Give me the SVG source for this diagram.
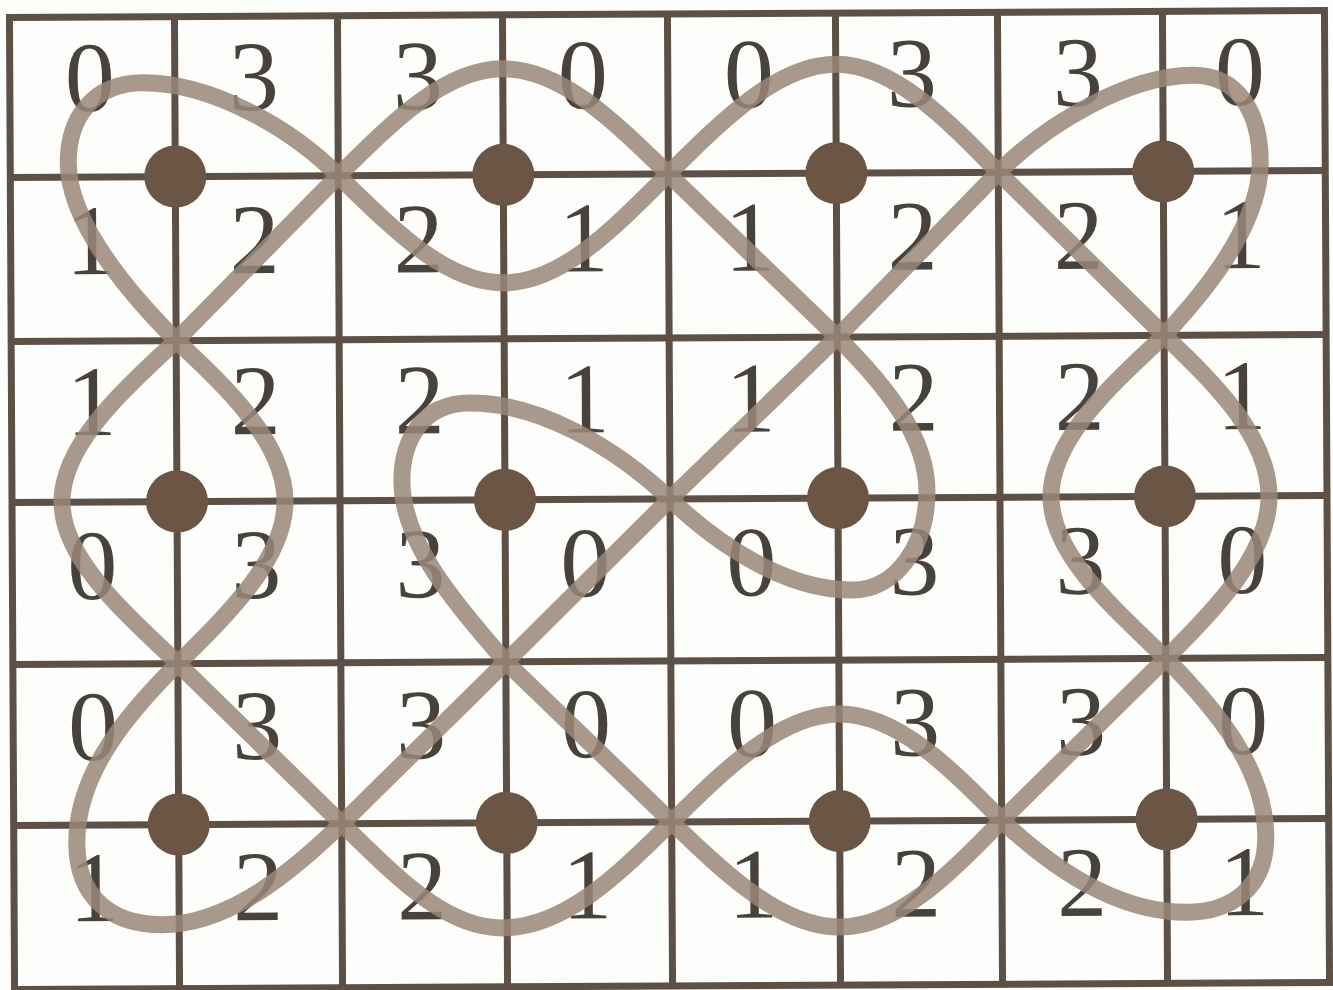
<svg xmlns="http://www.w3.org/2000/svg" width="1333" height="990" viewBox="0 0 1333 990">
<style>
.grid{stroke:#5d5046;stroke-width:7;fill:none}
.n{font-family:"Liberation Serif","Times New Roman",serif;font-size:100px;fill:#48423d;text-anchor:middle}
.c{stroke:#9a8879;stroke-width:17;fill:none;stroke-linecap:round;opacity:0.85}
.d{fill:#6b5646}
</style>
<rect width="1333" height="990" fill="#fdfdfb"/>
<g transform="rotate(-0.3 670 500)">
<g id="grid" class="grid">
<rect x="12" y="14" width="1315" height="972"/>
<path d="M177,14V986M340,14V986M505,14V986M670,14V986M838,14V986M1000,14V986M1165,14V986"/>
<path d="M12,174H1327M12,338H1327M12,499H1327M12,661H1327M12,822H1327"/>
</g>
<g id="labels" class="n">
<text x="92" y="108">0</text><text x="256" y="108">3</text><text x="420" y="108">3</text><text x="585" y="108">0</text><text x="751" y="108">0</text><text x="914" y="108">3</text><text x="1080" y="108">3</text><text x="1242" y="108">0</text>
<text x="92" y="271">1</text><text x="256" y="271">2</text><text x="420" y="271">2</text><text x="585" y="271">1</text><text x="751" y="271">1</text><text x="914" y="271">2</text><text x="1080" y="271">2</text><text x="1242" y="271">1</text>
<text x="92" y="432">1</text><text x="256" y="432">2</text><text x="420" y="432">2</text><text x="585" y="432">1</text><text x="751" y="432">1</text><text x="914" y="432">2</text><text x="1080" y="432">2</text><text x="1242" y="432">1</text>
<text x="92" y="596">0</text><text x="256" y="596">3</text><text x="420" y="596">3</text><text x="585" y="596">0</text><text x="751" y="596">0</text><text x="914" y="596">3</text><text x="1080" y="596">3</text><text x="1242" y="596">0</text>
<text x="92" y="757">0</text><text x="256" y="757">3</text><text x="420" y="757">3</text><text x="585" y="757">0</text><text x="751" y="757">0</text><text x="914" y="757">3</text><text x="1080" y="757">3</text><text x="1242" y="757">0</text>
<text x="92" y="918">1</text><text x="256" y="918">2</text><text x="420" y="918">2</text><text x="585" y="918">1</text><text x="751" y="918">1</text><text x="914" y="918">2</text><text x="1080" y="918">2</text><text x="1242" y="918">1</text>
</g>
<g id="connectors" class="c">
<path d="M340,174 C292,125 212,80 145,80 C95,80 70,115 70,160 C70,215 120,280 177,338"/>
<path d="M340,174 L177,338"/>
<path d="M340,174 C395,120 447,68 505,68 C563,68 615,120 670,174"/>
<path d="M340,174 C395,228 447,282 505,282 C563,282 615,228 670,174"/>
<path d="M670,174 C725,120 780,65 838,65 C895,65 948,120 1000,174"/>
<path d="M670,174 L838,338 M1000,174 L838,338"/>
<path d="M1000,174 C1050,125 1130,78 1195,78 C1240,78 1262,115 1262,165 C1262,220 1220,280 1165,338"/>
<path d="M1000,174 L1165,338"/>
<path d="M177,338 C127,385 62,440 62,499 C62,557 127,612 177,661"/>
<path d="M177,338 C227,385 285,440 285,499 C285,557 227,612 177,661"/>
<path d="M670,499 C615,447 540,402 470,402 C422,402 402,440 402,480 C402,540 452,600 505,661"/>
<path d="M670,499 L505,661"/>
<path d="M838,338 C890,390 927,440 927,492 C927,548 895,591 852,591 C785,591 718,545 670,499"/>
<path d="M670,499 L838,338"/>
<path d="M1165,338 C1115,385 1051,440 1051,499 C1051,557 1115,612 1165,661"/>
<path d="M1165,338 C1215,385 1269,440 1269,499 C1269,557 1215,612 1165,661"/>
<path d="M177,661 C127,710 75,770 75,840 C75,895 110,922 160,922 C230,922 295,865 340,822"/>
<path d="M177,661 L340,822"/>
<path d="M340,822 C388,868 440,927 500,927 C565,927 620,870 670,822"/>
<path d="M340,822 L505,661 L670,822"/>
<path d="M670,822 C725,768 780,715 838,715 C895,715 948,768 1000,822"/>
<path d="M670,822 C725,876 780,928 838,928 C895,928 948,876 1000,822"/>
<path d="M1165,661 C1213,710 1264,770 1264,840 C1264,890 1230,915 1185,915 C1110,915 1045,865 1000,822"/>
<path d="M1000,822 L1165,661"/>
</g>
<g id="dots" class="d">
<g id="dot11"><circle cx="177" cy="174" r="31"/></g>
<g id="dot31"><circle cx="505" cy="174" r="31"/></g>
<g id="dot51"><circle cx="838" cy="174" r="31"/></g>
<g id="dot71"><circle cx="1165" cy="174" r="31"/></g>
<g id="dot13"><circle cx="177" cy="499" r="31"/></g>
<g id="dot33"><circle cx="505" cy="499" r="31"/></g>
<g id="dot53"><circle cx="838" cy="499" r="31"/></g>
<g id="dot73"><circle cx="1165" cy="499" r="31"/></g>
<g id="dot15"><circle cx="177" cy="822" r="31"/></g>
<g id="dot35"><circle cx="505" cy="822" r="31"/></g>
<g id="dot55"><circle cx="838" cy="822" r="31"/></g>
<g id="dot75"><circle cx="1165" cy="822" r="31"/></g>
</g>
</g>
</svg>
